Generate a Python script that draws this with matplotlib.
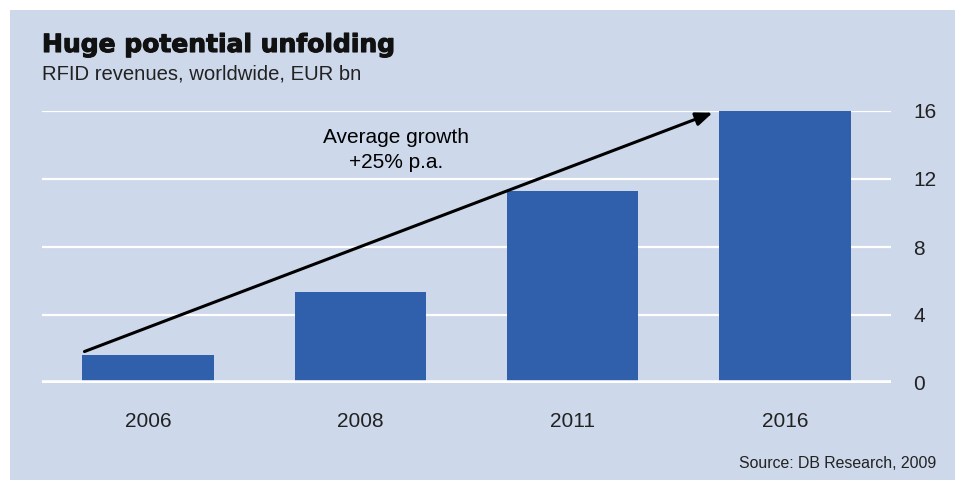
import matplotlib
matplotlib.use("Agg")
import matplotlib.pyplot as plt
import matplotlib.patheffects as pe
from matplotlib.patches import Rectangle

years = ["2006", "2008", "2011", "2016"]
revenues = [1.65, 5.35, 11.3, 16.0]
yticks = [0, 4, 8, 12, 16]
arrow_start = (-0.3, 1.85)
arrow_end = (2.66, 15.9)

plt.rcParams['font.family'] = ['Liberation Sans', 'DejaVu Sans']
bg = '#cdd8ea'
bar_color = '#3060ab'

fig = plt.figure(figsize=(9.61, 4.8), dpi=100)
fig.patch.set_facecolor('white')
fig.add_artist(Rectangle((10/961, 0), 945/961, 470/480, transform=fig.transFigure,
                         facecolor=bg, edgecolor='none', zorder=0))

ax = fig.add_axes([42/961, 1-383/480, 849/961, 272/480])
ax.set_facecolor('none')
x = list(range(len(years)))
ax.bar(x, revenues, width=0.62, color=bar_color, zorder=3)
ax.set_xlim(-0.5, 3.5)
ax.set_ylim(0, 16)
for t in yticks[1:]:
    ax.axhline(t, color='white', lw=1.6, zorder=1)
ax.axhline(0, color='white', lw=4.0, zorder=4)
for s in ax.spines.values():
    s.set_visible(False)
ax.yaxis.tick_right()
ax.set_yticks(yticks)
ax.set_yticklabels([str(v) for v in yticks], fontsize=15, color='#222222')
ax.tick_params(axis='y', length=0, pad=16)
ax.set_xticks(x)
ax.set_xticklabels(years, fontsize=15, color='#222222')
ax.tick_params(axis='x', length=0, pad=21)

ax.annotate('', xy=arrow_end, xytext=arrow_start,
            arrowprops=dict(arrowstyle='-|>,head_length=1.0,head_width=0.4', color='black', lw=2.2,
                            shrinkA=0, shrinkB=0), zorder=5, annotation_clip=False)
ax.text(1.17, 14.47, 'Average growth', ha='center', va='center', fontsize=15, color='black', zorder=6)
ax.text(1.17, 13.0, '+25% p.a.', ha='center', va='center', fontsize=15, color='black', zorder=6)

fig.text(42/961, 1-52/480, 'Huge potential unfolding', fontsize=18, fontweight='heavy',
         family=['DejaVu Sans'], color='#111111', va='baseline', ha='left',
         path_effects=[pe.withStroke(linewidth=0.8, foreground='#111111')])
fig.text(42/961, 1-80/480, 'RFID revenues, worldwide, EUR bn', fontsize=14.6, color='#222222',
         va='baseline', ha='left')
fig.text(936/961, 1-468/480, 'Source: DB Research, 2009', fontsize=11.4, color='#222222',
         va='baseline', ha='right')

fig.savefig('out.png', dpi=100)
